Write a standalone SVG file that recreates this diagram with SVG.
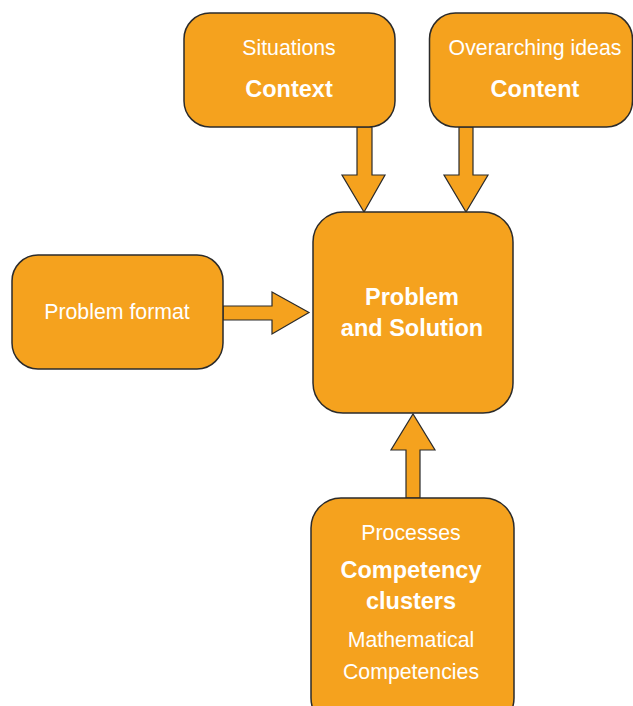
<svg xmlns="http://www.w3.org/2000/svg" width="633" height="706" viewBox="0 0 633 706">
<style>
.box{fill:#F5A21E;stroke:#2b2b2b;stroke-width:1.5}
.arr{fill:#F5A21E;stroke:#2b2b2b;stroke-width:1.2;stroke-linejoin:miter}
.lt{font-family:"Liberation Sans",Arial,sans-serif;font-size:21.3px;fill:#ffffff;text-anchor:middle}
.bd{font-family:"Liberation Sans",Arial,sans-serif;font-size:23.5px;font-weight:bold;fill:#ffffff;text-anchor:middle}
</style>
<rect width="633" height="706" fill="#ffffff"/>
<g id="connectors">
<path class="arr" d="M357,127 L372,127 L372,175 L385,175 L364,212 L342,175 L357,175 Z"/>
<path class="arr" d="M459,127 L473,127 L473,175 L488,175 L466,212 L444,175 L459,175 Z"/>
<path class="arr" d="M223,306 L272,306 L272,292 L309,312.5 L272,334 L272,320 L223,320 Z"/>
<path class="arr" d="M406,498 L406,450 L391,450 L413,414 L435,450 L420,450 L420,498 Z"/>
</g>
<g id="context">
<rect class="box" x="184" y="13" width="211" height="114" rx="26"/>
<text class="lt" x="289" y="55">Situations</text>
<text class="bd" x="289" y="97">Context</text>
</g>
<g id="content">
<rect class="box" x="429.5" y="13" width="203" height="114" rx="26"/>
<text class="lt" x="535" y="55">Overarching ideas</text>
<text class="bd" x="535" y="97">Content</text>
</g>
<g id="format">
<rect class="box" x="12" y="255" width="211" height="114" rx="26"/>
<text class="lt" x="117" y="319">Problem format</text>
</g>
<g id="problem">
<rect class="box" x="313" y="212" width="200" height="201" rx="30"/>
<text class="bd" x="412" y="305">Problem</text>
<text class="bd" x="412" y="336">and Solution</text>
</g>
<g id="competency">
<rect class="box" x="311" y="498" width="203" height="230" rx="30"/>
<text class="lt" x="411" y="540">Processes</text>
<text class="bd" x="411" y="578">Competency</text>
<text class="bd" x="411" y="609">clusters</text>
<text class="lt" x="411" y="647">Mathematical</text>
<text class="lt" x="411" y="679">Competencies</text>
</g>
</svg>
